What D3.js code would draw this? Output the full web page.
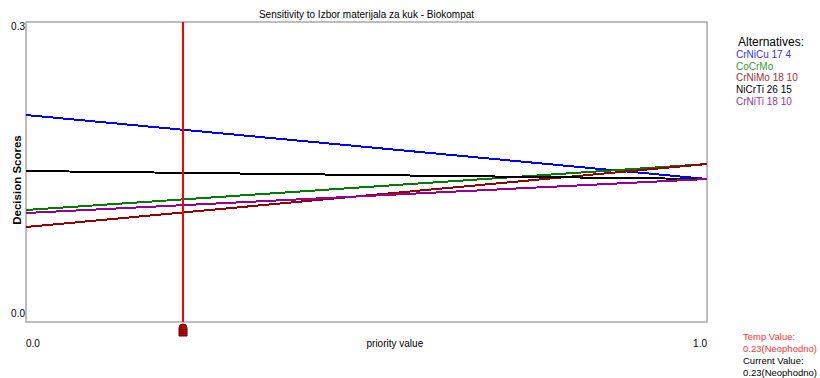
<!DOCTYPE html>
<html>
<head>
<meta charset="utf-8">
<script src="https://cdn.jsdelivr.net/npm/d3@7"></script>
<style>
  html, body { margin: 0; padding: 0; background: #fff; }
  svg { display: block; font-family: "Liberation Sans", Arial, sans-serif; }
</style>
</head>
<body>
<svg id="chart" width="820" height="378"></svg>
<script>
// Sensitivity data: decision score of each alternative at priority 0 and 1
const alternatives = ["CrNiCu 17 4", "CoCrMo", "CrNiMo 18 10", "NiCrTi 26 15", "CrNiTi 18 10"];
const lineColors   = ["#0000ff", "#008000", "#990000", "#000000", "#990099"];
const legendColors = ["#3333ff", "#339933", "#993333", "#000000", "#993399"];
const priorityPoints = [0, 1];
const scoresAtLow  = [0.207, 0.112, 0.095, 0.151, 0.109];
const scoresAtHigh = [0.143, 0.158, 0.158, 0.143, 0.143];
const yTicks = [0.0, 0.3];
const xTicks = [0.0, 1.0];
const currentPriority = 0.23;
const currentLabel = "0.23(Neophodno)";

const svg = d3.select("#chart");
const plot = { left: 26, right: 707, top: 22, bottom: 322 };

const x = d3.scaleLinear().domain([0, 1]).range([plot.left, plot.right]);
const y = d3.scaleLinear().domain([0, 0.3]).range([plot.bottom, plot.top]);

// Title
svg.append("text")
  .attr("x", (plot.left + plot.right) / 2).attr("y", 18)
  .attr("text-anchor", "middle").attr("font-size", 10)
  .text("Sensitivity to Izbor materijala za kuk - Biokompat");

// Plot frame
svg.append("rect")
  .attr("x", plot.left).attr("y", plot.top)
  .attr("width", plot.right - plot.left).attr("height", plot.bottom - plot.top)
  .attr("fill", "none").attr("stroke", "#a8a8a8").attr("stroke-width", 1.5);

// Y tick labels
svg.selectAll(".ytick").data(yTicks).enter().append("text")
  .attr("class", "ytick")
  .attr("x", plot.left - 1)
  .attr("y", d => d === 0 ? y(d) - 5 : y(d) + 8)
  .attr("text-anchor", "end").attr("font-size", 10)
  .text(d => d3.format(".1f")(d));

// X tick labels
svg.selectAll(".xtick").data(xTicks).enter().append("text")
  .attr("class", "xtick")
  .attr("x", d => x(d))
  .attr("y", 347)
  .attr("text-anchor", d => d === 0 ? "start" : "end").attr("font-size", 10)
  .text(d => d3.format(".1f")(d));

svg.append("text")
  .attr("x", x(0.5)).attr("y", 347)
  .attr("font-size", 10)
  .text("priority value");

// Y axis title
svg.append("text")
  .attr("transform", "translate(21,180) rotate(-90)")
  .attr("text-anchor", "middle").attr("font-size", 11.5).attr("font-weight", "bold")
  .text("Decision Scores");

// Score lines
const line = d3.line().x(d => x(d.p)).y(d => y(d.v));
alternatives.forEach((name, i) => {
  const pts = priorityPoints.map((p, k) => ({ p, v: k === 0 ? scoresAtLow[i] : scoresAtHigh[i] }));
  svg.append("path")
    .datum(pts)
    .attr("d", line)
    .attr("fill", "none")
    .attr("stroke", lineColors[i])
    .attr("stroke-width", 2)
    .attr("shape-rendering", "crispEdges");
});

// Current priority marker line
const cx = x(currentPriority);
svg.append("line")
  .attr("x1", cx).attr("x2", cx)
  .attr("y1", plot.top).attr("y2", plot.bottom)
  .attr("stroke", "#ff0000").attr("stroke-width", 2)
  .attr("shape-rendering", "crispEdges");

// Slider handle
const hx = Math.round(cx);
svg.append("path")
  .attr("d", `M${hx - 4},${plot.bottom + 6} Q${hx - 4},${plot.bottom + 2} ${hx},${plot.bottom + 2} Q${hx + 4},${plot.bottom + 2} ${hx + 4},${plot.bottom + 6} L${hx + 4},${plot.bottom + 14} L${hx - 4},${plot.bottom + 14} Z`)
  .attr("fill", "#c00000").attr("stroke", "#5a0000").attr("stroke-width", 1);
[7, 9, 11].forEach(dy => {
  svg.append("line")
    .attr("x1", hx - 3).attr("x2", hx + 3)
    .attr("y1", plot.bottom + dy + 0.5).attr("y2", plot.bottom + dy + 0.5)
    .attr("stroke", "#7a0000").attr("stroke-width", 1);
});

// Legend
svg.append("text")
  .attr("x", 738).attr("y", 46)
  .attr("font-size", 12)
  .text("Alternatives:");
svg.selectAll(".legend").data(alternatives).enter().append("text")
  .attr("class", "legend")
  .attr("x", 736)
  .attr("y", (d, i) => 58 + i * 11.7)
  .attr("font-size", 10)
  .attr("fill", (d, i) => legendColors[i])
  .text(d => d);

// Temp / current value readout
const readout = [
  { t: "Temp Value:", c: "#ff3333" },
  { t: currentLabel, c: "#ff3333" },
  { t: "Current Value:", c: "#000000" },
  { t: currentLabel, c: "#000000" }
];
svg.selectAll(".readout").data(readout).enter().append("text")
  .attr("class", "readout")
  .attr("x", 743)
  .attr("y", (d, i) => 340 + i * 12)
  .attr("font-size", 9.5)
  .attr("fill", d => d.c)
  .text(d => d.t);
</script>
</body>
</html>
